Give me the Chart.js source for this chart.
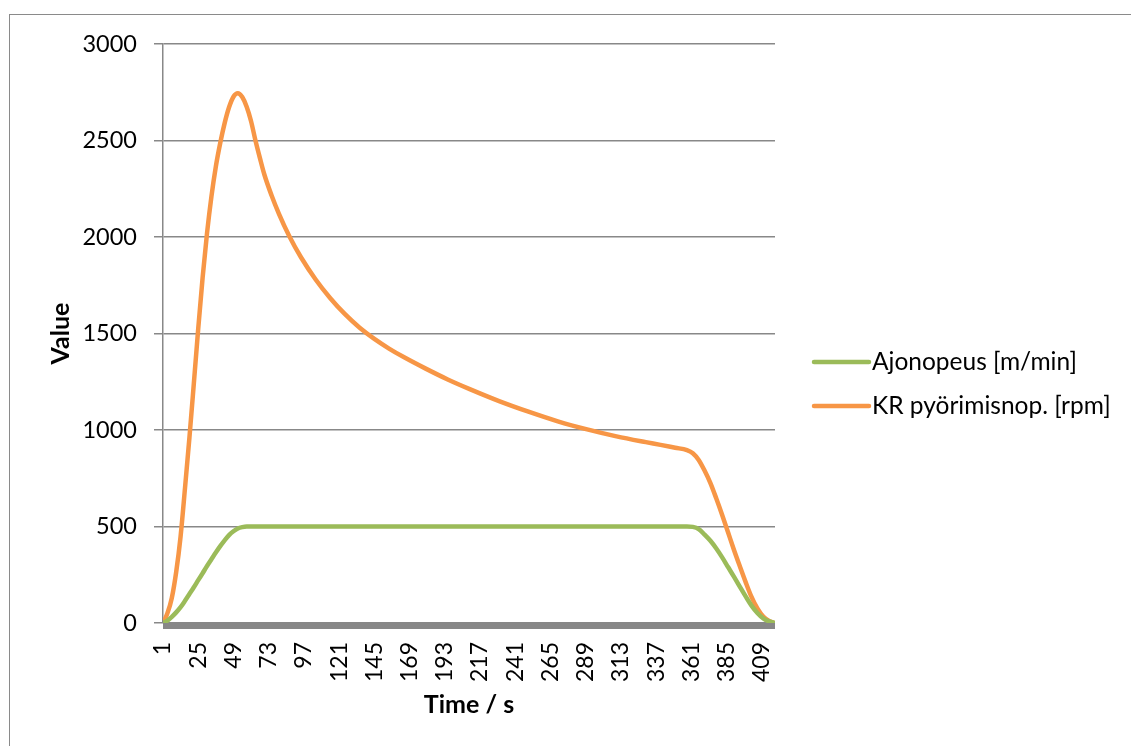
<!DOCTYPE html>
<html>
<head>
<meta charset="utf-8">
<script src="https://cdn.jsdelivr.net/npm/chart.js@4"></script>
<style>
  body { margin: 0; background: #fff; overflow: hidden; }
  #frame { position: absolute; left: 9px; top: 14px; width: 1200px; height: 800px; border: 1.5px solid #8a8a8a; }
  #chart { position: absolute; left: 0; top: 0; }
</style>
</head>
<body>
<div id="frame"></div>
<canvas id="chart" width="1131" height="746"></canvas>
<script>
// Time axis tick labels (seconds)
const xTicks = [1, 25, 49, 73, 97, 121, 145, 169, 193, 217, 241, 265, 289, 313, 337, 361, 385, 409];

// KR pyörimisnopeus [rpm]
const rpmTime = [1, 4, 7, 10, 13, 16, 19, 22, 25, 28, 31, 34, 37, 40, 43, 46, 49, 52, 55, 58,
  61, 64, 67, 70, 75, 80, 87, 95, 105, 115, 125, 135, 145, 155, 165, 180, 195, 210, 230, 250,
  270, 290, 310, 330, 340, 350, 358, 362, 366, 370, 374, 378, 382, 386, 390, 394, 398, 402, 406, 410,
  414, 417];
const rpmValues = [0, 50, 130, 265, 450, 700, 960, 1240, 1525, 1790, 2020, 2210, 2365, 2487, 2590, 2672, 2727, 2745, 2725, 2675,
  2600, 2500, 2410, 2325, 2215, 2120, 2005, 1895, 1780, 1683, 1600, 1530, 1472, 1422, 1378, 1318, 1262, 1212, 1150, 1095,
  1045, 1003, 967, 937, 923, 908, 896, 880, 845, 790, 725, 645, 560, 470, 380, 295, 212, 135, 75, 33,
  10, 2];

// Ajonopeus [m/min]
const speedTime = [1, 4, 7, 10, 13, 16, 19, 22, 25, 28, 31, 34, 37, 40, 43, 46, 49, 52, 55, 58,
  60, 358, 362, 366, 370, 374, 378, 382, 386, 390, 394, 398, 402, 406, 410, 414, 417];
const speedValues = [0, 12, 32, 55, 82, 115, 150, 185, 222, 258, 295, 330, 365, 398, 428, 455, 475, 490, 497, 500,
  500, 500, 498, 487, 458, 426, 386, 340, 290, 240, 188, 138, 90, 52, 24, 8, 2];

const seriesNames = ['Ajonopeus [m/min]', 'KR pyörimisnop. [rpm]'];
const seriesColors = ['#9bbb59', '#f79646'];

function toPoints(xs, ys) {
  return xs.map((x, i) => ({ x: x, y: ys[i] }));
}

const FONT = 'Lato, "Open Sans", sans-serif';

// thick grey bar under the plot + legend on the right
const extras = {
  id: 'extras',
  beforeDatasetsDraw(chart) {
    const ctx = chart.ctx;
    const a = chart.chartArea;
    ctx.save();
    ctx.fillStyle = '#878787';
    ctx.fillRect(a.left, a.bottom - 1, a.right - a.left, 7);
    ctx.restore();
  },
  afterDraw(chart) {
    const ctx = chart.ctx;
    ctx.save();
    chart.data.datasets.forEach((ds, i) => {
      const y = 362 + i * 44;
      ctx.strokeStyle = ds.borderColor;
      ctx.lineWidth = 4.5;
      ctx.lineCap = 'round';
      ctx.beginPath();
      ctx.moveTo(814, y);
      ctx.lineTo(869, y);
      ctx.stroke();
      ctx.fillStyle = '#000';
      ctx.font = '24.5px ' + FONT;
      ctx.textBaseline = 'middle';
      ctx.fillText(ds.label, 872, y);
    });
    ctx.restore();
  }
};

new Chart(document.getElementById('chart'), {
  type: 'line',
  data: {
    datasets: [
      { label: seriesNames[0], data: toPoints(speedTime, speedValues), borderColor: seriesColors[0] },
      { label: seriesNames[1], data: toPoints(rpmTime, rpmValues), borderColor: seriesColors[1] }
    ]
  },
  options: {
    responsive: false,
    animation: false,
    layout: { padding: { left: 46, right: 356, top: 44, bottom: 0 } },
    elements: {
      point: { radius: 0 },
      line: { borderWidth: 4.5, cubicInterpolationMode: 'monotone', borderCapStyle: 'round', borderJoinStyle: 'round' }
    },
    plugins: { legend: { display: false }, tooltip: { enabled: false } },
    scales: {
      x: {
        type: 'linear',
        min: 1,
        max: 418,
        afterBuildTicks(s) { s.ticks = xTicks.map(v => ({ value: v })); },
        afterFit(s) { s.height = 123; },
        grid: { display: false, drawTicks: false },
        border: { display: false },
        ticks: {
          autoSkip: false, minRotation: 90, maxRotation: 90, padding: 19,
          color: '#000', font: { family: FONT, size: 23 },
          callback: v => String(v)
        },
        title: {
          display: true, text: 'Time / s', color: '#000',
          font: { family: FONT, size: 25, weight: 'bold' },
          padding: { top: 0, bottom: 26 }
        }
      },
      y: {
        min: 0,
        max: 3000,
        afterFit(s) { s.width = 117; },
        grid: { color: '#888', lineWidth: 1.5, tickLength: 9 },
        border: { color: '#888', width: 1.5 },
        ticks: {
          stepSize: 500, padding: 17,
          color: '#000', font: { family: FONT, size: 23.5 },
          callback: v => String(v)
        },
        title: {
          display: true, text: 'Value', color: '#000',
          font: { family: FONT, size: 25, weight: 'bold' },
          padding: 0
        }
      }
    }
  },
  plugins: [extras]
});
</script>
</body>
</html>
